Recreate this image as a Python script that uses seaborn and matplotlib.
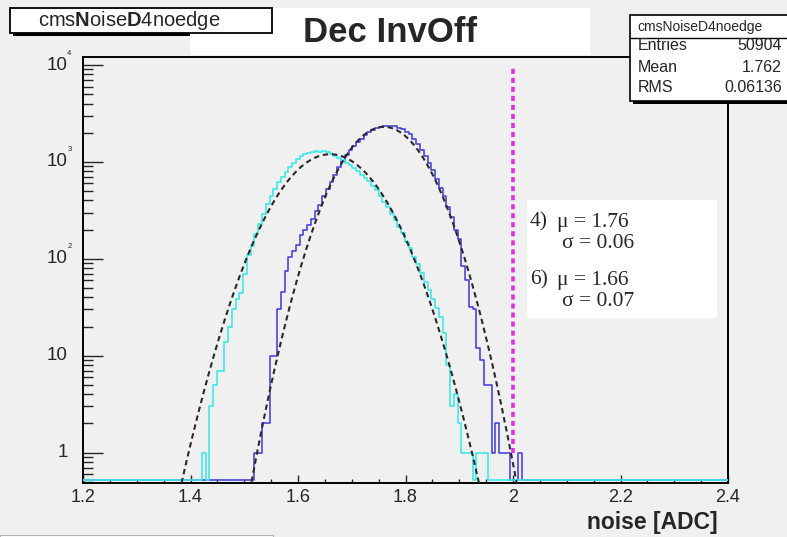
import numpy as np
import pandas as pd
import matplotlib
matplotlib.use("Agg")
import matplotlib.pyplot as plt
import matplotlib.transforms as mtrans
from matplotlib.patches import Rectangle
from matplotlib.ticker import FixedLocator, LogLocator, MultipleLocator, NullFormatter
import seaborn as sns

# ---- data -------------------------------------------------------------
bin_width = 0.007          # ADC per bin
first_edge = 1.400         # lower edge of the first listed bin

# strip noise, fit region 6 (cyan) and region 4 (blue), counts per bin
noise6_counts = [
    0, 0, 0, 1, 0, 3, 5, 7, 7, 14,
    20, 30, 38, 44, 70, 110, 135, 180, 230, 290,
    370, 450, 530, 620, 700, 780, 880, 980, 1060, 1140,
    1220, 1250, 1270, 1290, 1280, 1300, 1260, 1220, 1150, 1100,
    1040, 980, 920, 860, 800, 740, 680, 630, 560, 510,
    450, 390, 340, 290, 250, 215, 185, 150, 128, 105,
    88, 72, 58, 48, 38, 31, 25, 17, 8, 3,
    4, 2, 1, 1, 1, 0, 1, 1, 1, 0,
    0, 0, 0, 0, 0, 0, 0, 0, 0, 0,
]
noise4_counts = [
    0, 0, 0, 0, 0, 0, 0, 0, 0, 0,
    0, 0, 0, 0, 0, 0, 0, 1, 1, 2,
    2, 10, 10, 30, 45, 75, 105, 120, 140, 175,
    200, 225, 255, 310, 360, 440, 520, 620, 740, 880,
    1020, 1180, 1320, 1450, 1600, 1720, 1880, 2020, 2150, 2250,
    2310, 2340, 2360, 2350, 2330, 2260, 2190, 2050, 1930, 1720,
    1530, 1340, 1150, 980, 820, 660, 540, 440, 340, 270,
    200, 160, 85, 60, 32, 30, 12, 9, 5, 5,
    1, 2, 1, 1, 1, 0, 0, 1, 0, 0,
]

# gaussian fits: (mean, sigma, peak height)
fit4 = (1.76, 0.06, 2300.0)
fit6 = (1.66, 0.07, 1200.0)

cut_value = 2.0
x_ticks = [1.2, 1.4, 1.6, 1.8, 2.0, 2.2, 2.4]
x_tick_labels = ["1.2", "1.4", "1.6", "1.8", "2", "2.2", "2.4"]
y_decades = [1, 10, 100, 1000, 10000]
y_mantissa = ["1", "10", "10", "10", "10"]
y_exponent = ["", "", "2", "3", "4"]

hist_name = "cmsNoiseD4noedge"
stats_rows = [("Entries", "50904"), ("Mean", "1.762"), ("RMS", "0.06136")]
fit_lines = [("4)", "1.76", "0.06"), ("6)", "1.66", "0.07")]
title = "Dec InvOff"
x_title = "noise [ADC]"

# ---- style ------------------------------------------------------------
sns.set_style("ticks")
plt.rcParams["font.family"] = ["Liberation Sans", "DejaVu Sans"]
plt.rcParams["mathtext.fontset"] = "custom"
plt.rcParams["mathtext.rm"] = "Liberation Sans"
plt.rcParams["mathtext.bf"] = "Liberation Sans:bold"

BG = "#f0f0f0"
CYAN = "#3ee8e8"
BLUE = "#4b46d8"
MAGENTA = "#e030e0"
FIT = "#2a2a2a"

W, H = 787, 537
fig = plt.figure(figsize=(W / 100, H / 100), dpi=100)
fig.patch.set_facecolor(BG)


def fx(px):
    return px / W


def fy(py):
    return 1 - py / H


ax_l, ax_r, ax_t, ax_b = 83, 728, 57, 483
ax = fig.add_axes([fx(ax_l), fy(ax_b), (ax_r - ax_l) / W, (ax_b - ax_t) / H])
ax.set_facecolor(BG)
ax.set_yscale("log")
y_bottom, y_top = 0.485, 1.21e4
y_floor = 0.515            # where empty bins are drawn
x_lo, x_hi = 1.2, 2.4

# ---- histograms -------------------------------------------------------
k0 = int(round(first_edge / bin_width))
k_min, k_max = int(np.ceil(x_lo / bin_width)) - 1, int(np.ceil(x_hi / bin_width))
edges = np.arange(k_min, k_max + 1) * bin_width
centers = 0.5 * (edges[:-1] + edges[1:])


def full_range(counts):
    full = np.zeros(len(centers))
    full[k0 - k_min:k0 - k_min + len(counts)] = counts
    # empty bins sit on the bottom of the frame, as on a log plot
    return np.where(full > 0, full, y_floor)


for counts, color in [(noise4_counts, BLUE), (noise6_counts, CYAN)]:
    df = pd.DataFrame({"noise": centers, "n": full_range(counts)})
    sns.histplot(data=df, x="noise", weights="n", binwidth=bin_width,
                 binrange=(edges[0], edges[-1]), element="step",
                 fill=False, color=color, linewidth=1.2, zorder=3, ax=ax)

# ---- gaussian fits ----------------------------------------------------
xs = np.linspace(1.30, 2.10, 600)
for mu, sig, amp in (fit6, fit4):
    ys = amp * np.exp(-0.5 * ((xs - mu) / sig) ** 2)
    keep = ys > y_bottom * 0.5
    sns.lineplot(x=xs[keep], y=ys[keep], color=FIT, linewidth=1.5,
                 linestyle=(0, (2.6, 1.8)), zorder=4, ax=ax)

ax.vlines(cut_value, 1, 1e4, colors=MAGENTA, linewidth=2.6,
          linestyles=(0, (1.4, 1.1)), zorder=5)

# ---- axes -------------------------------------------------------------
ax.set_xlim(x_lo, x_hi)
ax.set_ylim(y_bottom, y_top)
ax.set_xlabel("")
ax.set_ylabel("")
for side in ("left", "bottom", "top", "right"):
    ax.spines[side].set_visible(True)
    ax.spines[side].set_color("black")
    ax.spines[side].set_linewidth(1.4)

ax.set_xticks(x_ticks, labels=x_tick_labels)
ax.xaxis.set_minor_locator(MultipleLocator(0.05))
ax.tick_params(axis="x", which="major", direction="in", length=5.5, width=1.0,
               labelsize=13, pad=4, top=False)
ax.tick_params(axis="x", which="minor", direction="in", length=3.0, width=1.0,
               top=False)

ax.yaxis.set_major_locator(FixedLocator(y_decades))
ax.yaxis.set_minor_locator(LogLocator(base=10, subs=np.arange(2, 10)))
ax.yaxis.set_major_formatter(NullFormatter())
ax.yaxis.set_minor_formatter(NullFormatter())
ax.tick_params(axis="y", which="major", direction="in", length=14.4, width=1.0,
               right=False)
ax.tick_params(axis="y", which="minor", direction="in", length=7.2, width=1.0,
               right=False)

ytrans = ax.get_yaxis_transform()
label_x = (68 - ax_l) / (ax_r - ax_l)
exp_trans = mtrans.offset_copy(ytrans, fig=fig, x=0, y=12, units="dots")
for val, man, ex in zip(y_decades, y_mantissa, y_exponent):
    ax.text(label_x, val, man, transform=ytrans, ha="right", va="center",
            fontsize=13.5, clip_on=False)
    if ex:
        ax.text(label_x - 0.001, val, ex, transform=exp_trans, ha="left",
                va="center", fontsize=5.5, clip_on=False)

# ---- boxes and texts --------------------------------------------------
def box(x0, y0, x1, y1, face="white", edge=None, lw=1.2, shadow=0, z=10):
    if shadow:
        fig.add_artist(Rectangle((fx(x0 + shadow), fy(y1 + shadow)),
                                 (x1 - x0) / W, (y1 - y0) / H,
                                 transform=fig.transFigure, facecolor="black",
                                 edgecolor="none", zorder=z - 1))
    fig.add_artist(Rectangle((fx(x0), fy(y1)), (x1 - x0) / W, (y1 - y0) / H,
                             transform=fig.transFigure, facecolor=face,
                             edgecolor=edge if edge else "none", linewidth=lw,
                             zorder=z))


# title pave
box(190, 8, 590, 55)
fig.text(fx(390), fy(33), title, ha="center", va="center", fontsize=25,
         fontweight="bold", zorder=12)

# histogram name pave
box(10, 8, 272, 33, edge="black", lw=1.3, shadow=3)
fig.text(fx(129), fy(20.5), r"cms$\mathbf{N}$oise$\mathbf{D}$4noedge",
         ha="center", va="center", fontsize=14.5, zorder=12)

# statistics pave
box(630, 15, 800, 101, edge="black", lw=1.2, shadow=3)
fig.add_artist(plt.Line2D([fx(630), fx(787)], [fy(38), fy(38)],
                          transform=fig.transFigure, color="black", lw=1.0,
                          zorder=12))
fig.text(fx(700), fy(27), hist_name, ha="center", va="center", fontsize=10,
         zorder=12)
for (name, value), py in zip(stats_rows, [45, 67, 88]):
    fig.text(fx(638), fy(py), name, ha="left", va="center", fontsize=11.5,
             zorder=12)
    fig.text(fx(782), fy(py), value, ha="right", va="center", fontsize=11.5,
             zorder=12)

# fit result pave
box(527, 200, 717, 318, z=8)
serif = ["Liberation Serif", "DejaVu Serif"]
for (tag, mu, sig), py in zip(fit_lines, [222, 280]):
    fig.text(fx(530), fy(py), tag, ha="left", va="center",
             fontsize=15.5, family=serif, zorder=12)
    fig.text(fx(557), fy(py), f"\u03bc = {mu}", ha="left", va="center",
             fontsize=15.5, family=serif, zorder=12)
    fig.text(fx(562), fy(py + 22), f"\u03c3 = {sig}", ha="left", va="center",
             fontsize=15.5, family=serif, zorder=12)

# strip of a pave along the bottom edge
box(0, 535, 273, 540, edge="#b0b0b0", lw=0.8, z=6)

fig.text(fx(718), fy(522), x_title, ha="right", va="center", fontsize=16.5,
         fontweight="bold")

fig.savefig("out.png", dpi=100, facecolor=BG)
